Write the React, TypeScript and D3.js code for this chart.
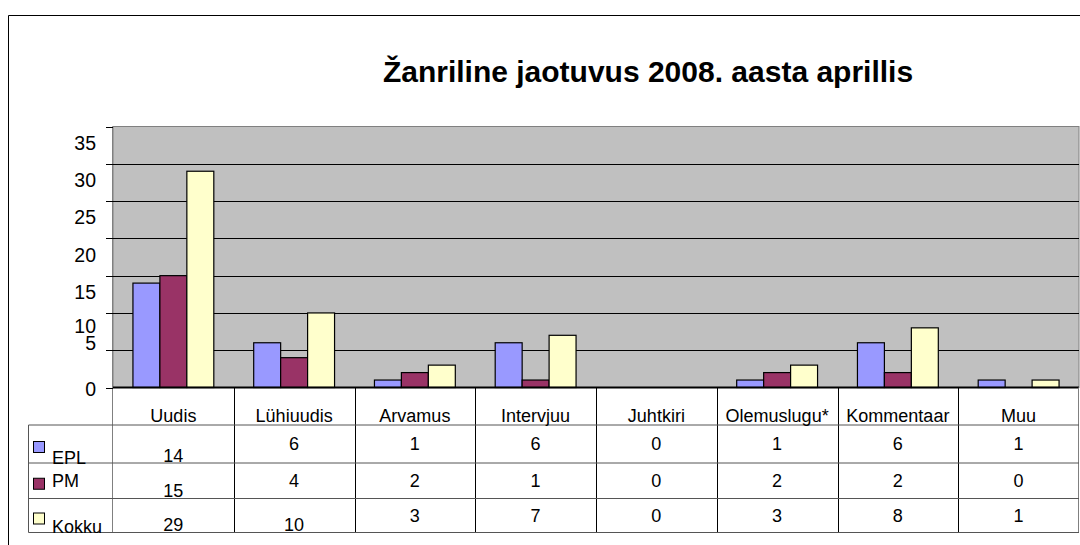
import React from "react";
import * as d3 from "d3";

const title = "Žanriline jaotuvus 2008. aasta aprillis";
const categories = ["Uudis", "Lühiuudis", "Arvamus", "Intervjuu", "Juhtkiri", "Olemuslugu*", "Kommentaar", "Muu"];
const seriesNames = ["EPL", "PM", "Kokku"];
const epl = [14, 6, 1, 6, 0, 1, 6, 1];
const pm = [15, 4, 2, 1, 0, 2, 2, 0];
const kokku = [29, 10, 3, 7, 0, 3, 8, 1];
const yTicks = [0, 5, 10, 15, 20, 25, 30, 35];

const seriesValues = [epl, pm, kokku];
const colors = ["#9999FF", "#993366", "#FFFFCC"];

const FONT = "Arial, 'Liberation Sans', sans-serif";

export default function App() {
  const W = 1080, H = 545;
  const plotL = 113, plotR = 1079, plotT = 126.5, plotB = 387.5;
  const y = d3.scaleLinear().domain([0, 35]).range([plotB, plotT]);
  const x = d3.scaleBand<string>().domain(categories).range([plotL, plotR]).padding(0);
  const xs = d3.scaleBand<string>().domain(seriesNames).range([0, x.bandwidth()]).paddingInner(0).paddingOuter(0.74);

  // table rows
  const rowLines = [425, 463, 498.5, 532.5];
  const tableLeft = 28.5;

  // label offset quirks for y-axis labels (relative to tick)
  const labelDy = (v: number) => (v >= 15 ? 16.5 : v === 10 ? 13 : v === 5 ? -7.5 : 1.5);

  // cells that sit at the bottom of their row (quirk of original)
  const bottomAligned = (row: number, col: number) => col === 0 || (col === 1 && row === 2);
  const legendBottom = (row: number) => row !== 1;

  return (
    <div style={{ position: "absolute", left: 0, top: 0 }}>
      <svg width={W} height={H} style={{ display: "block", background: "#fff" }} fontFamily={FONT}>
        {/* outer chart border */}
        <path d={`M8.5,${H + 5} V15.5 H${W + 5}`} fill="none" stroke="#000" strokeWidth={1} />

        <text x={648} y={82} textAnchor="middle" fontSize={30} fontWeight="bold" fill="#000">{title}</text>

        {/* plot background */}
        <rect x={plotL} y={plotT} width={plotR - plotL} height={plotB - plotT} fill="#C0C0C0" stroke="#808080" strokeWidth={1} />

        {/* gridlines */}
        {yTicks.filter(t => t > 0 && t < 35).map(t => (
          <line key={t} x1={plotL} x2={plotR} y1={Math.round(y(t)) + 0.5} y2={Math.round(y(t)) + 0.5} stroke="#000" strokeWidth={1} />
        ))}

        {/* bars */}
        {categories.map((c, ci) => (
          <g key={c} transform={`translate(${x(c)},0)`}>
            {seriesNames.map((s, si) => {
              const v = seriesValues[si][ci];
              if (v === 0) return null;
              const bx = xs(s)!;
              return (
                <rect key={s} x={bx} y={y(v)} width={xs.bandwidth()} height={plotB - y(v)}
                  fill={colors[si]} stroke="#000" strokeWidth={1.2} />
              );
            })}
          </g>
        ))}

        {/* axis line at 0 */}
        <line x1={plotL} x2={plotR} y1={plotB} y2={plotB} stroke="#000" strokeWidth={2} />
        {/* left axis line through table */}
        <line x1={plotL - 0.5} x2={plotL - 0.5} y1={plotT} y2={rowLines[3]} stroke="#808080" strokeWidth={1} />

        {/* ticks and labels */}
        {yTicks.map(t => (
          <g key={t}>
            <line x1={106} x2={plotL} y1={Math.round(y(t)) + 0.5} y2={Math.round(y(t)) + 0.5} stroke="#000" strokeWidth={1} />
            <text x={96} y={y(t) + labelDy(t)} dy="0.35em" textAnchor="end" fontSize={19.5} fill="#000">{t}</text>
          </g>
        ))}

        {/* data table */}
        {categories.slice(1).map(c => (
          <line key={c} x1={Math.round(x(c)!) + 0.5} x2={Math.round(x(c)!) + 0.5} y1={plotB} y2={rowLines[3]} stroke="#000" strokeWidth={1} />
        ))}
        <line x1={plotR - 0.5} x2={plotR - 0.5} y1={plotB} y2={rowLines[3]} stroke="#808080" strokeWidth={1} />
        {rowLines.map((ry, i) => (
          <line key={i} x1={tableLeft} x2={plotR} y1={ry} y2={ry} stroke="#555" strokeWidth={1} />
        ))}
        <line x1={tableLeft} x2={tableLeft} y1={rowLines[0]} y2={rowLines[3]} stroke="#555" strokeWidth={1} />

        {categories.map(c => (
          <text key={c} x={x(c)! + x.bandwidth() / 2} y={421.5} textAnchor="middle" fontSize={18} fill="#000">{c}</text>
        ))}

        {seriesNames.map((s, ri) => {
          const top = rowLines[ri], bot = rowLines[ri + 1];
          const mid = (top + bot) / 2;
          return (
            <g key={s}>
              <rect x={33.5} y={mid - 2.5} width={11} height={11} fill={colors[ri]} stroke="#000" strokeWidth={1} />
              <text x={52} y={legendBottom(ri) ? bot + 0.5 : mid + 6} fontSize={18} fill="#000">{s}</text>
              {categories.map((c, ci) => (
                <text key={c} x={x(c)! + x.bandwidth() / 2} y={bottomAligned(ri, ci) ? bot - 1.5 : mid + 6}
                  textAnchor="middle" fontSize={18} fill="#000">{seriesValues[ri][ci]}</text>
              ))}
            </g>
          );
        })}
      </svg>
    </div>
  );
}
